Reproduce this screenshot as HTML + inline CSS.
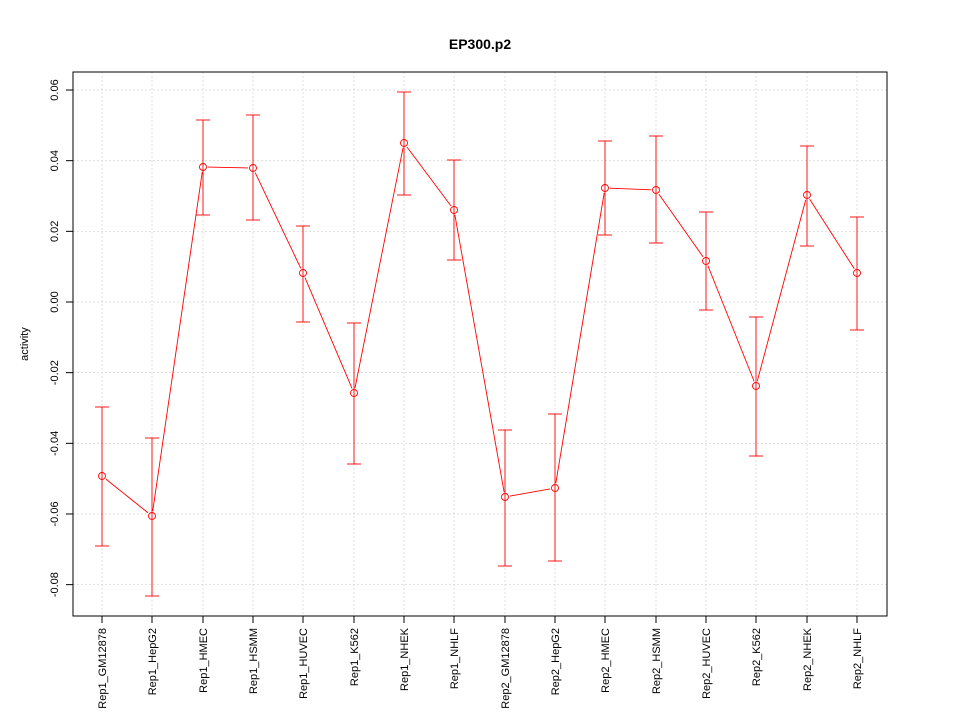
<!DOCTYPE html><html><head><style>body{margin:0;background:#fff}svg{display:block}</style></head><body>
<svg id="s" width="960" height="720" xmlns="http://www.w3.org/2000/svg" font-family="Liberation Sans, sans-serif">
<rect width="960" height="720" fill="#fff"/>
<text x="480" y="49" text-anchor="middle" font-weight="bold" font-size="14">EP300.p2</text>
<text transform="translate(28,344) rotate(-90)" text-anchor="middle" font-size="11">activity</text>
<g id="g"></g>
<rect x="73" y="72" width="814" height="544" fill="none" stroke="#000"/>
</svg>
<script>
const g=document.getElementById('g');let h='';
const xs=[102,152,203,253,303,354,404,454,505,555,605,656,706,756,807,857];
const names=["Rep1_GM12878","Rep1_HepG2","Rep1_HMEC","Rep1_HSMM","Rep1_HUVEC","Rep1_K562","Rep1_NHEK","Rep1_NHLF","Rep2_GM12878","Rep2_HepG2","Rep2_HMEC","Rep2_HSMM","Rep2_HUVEC","Rep2_K562","Rep2_NHEK","Rep2_NHLF"];
const d=[[476,407,546],[516,438,596],[167,120,215],[168,115,220],[273,226,322],[393,323,464],[143,92,195],[210,160,260],[497,430,566],[488,414,561],[188,141,235],[190,136,243],[261,212,310],[386,317,456],[195,146,246],[273,217,330]];
xs.forEach(x=>h+=`<line x1="${x}" y1="72" x2="${x}" y2="616" stroke="#d8d8d8" stroke-width="0.8" stroke-dasharray="2,2"/>`);
const yt=[0.06,0.04,0.02,0,-0.02,-0.04,-0.06,-0.08];
yt.forEach(v=>{const y=302-v*3533;h+=`<line x1="73" y1="${y}" x2="887" y2="${y}" stroke="#d8d8d8" stroke-width="0.8" stroke-dasharray="2,2"/><line x1="66" y1="${y}" x2="73" y2="${y}" stroke="#000"/><text transform="translate(58,${y}) rotate(-90)" text-anchor="middle" font-size="11">${v.toFixed(2)}</text>`});
xs.forEach((x,i)=>{h+=`<line x1="${x}" y1="616" x2="${x}" y2="623" stroke="#000"/><text transform="translate(${x+4},628) rotate(-90)" text-anchor="end" font-size="11">${names[i]}</text>`;
const [p,u,l]=d[i];h+=`<g stroke="red" stroke-width="0.9"><line x1="${x}" y1="${u}" x2="${x}" y2="${l}"/><line x1="${x-7}" y1="${u}" x2="${x+7}" y2="${u}"/><line x1="${x-7}" y1="${l}" x2="${x+7}" y2="${l}"/><circle cx="${x}" cy="${p}" r="3.5" fill="none"/></g>`;
if(i<15){const x2=xs[i+1],p2=d[i+1][0],dx=x2-x,dy=p2-p,L=Math.hypot(dx,dy),ux=dx/L*5,uy=dy/L*5;h+=`<line x1="${x+ux}" y1="${p+uy}" x2="${x2-ux}" y2="${p2-uy}" stroke="red" stroke-width="0.9"/>`}});
g.innerHTML=h;
</script></body></html>
